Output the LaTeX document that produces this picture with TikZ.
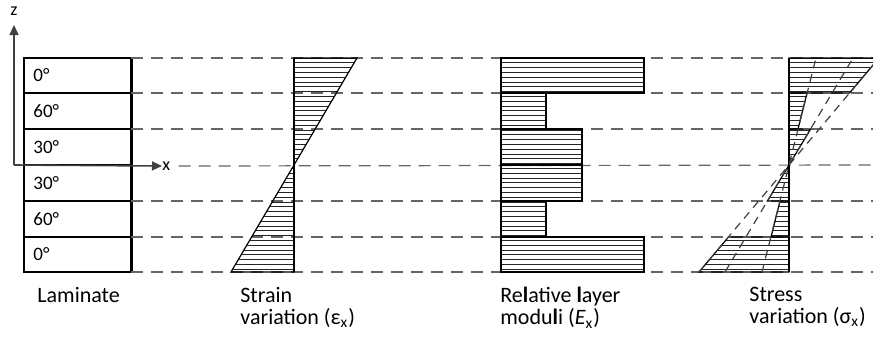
\documentclass[tikz,border=0pt]{standalone}
\usepackage{fontspec}
\setmainfont{Carlito}
\usetikzlibrary{arrows.meta}

\tikzset{
  layerline/.style={black!60, line width=0.6pt, dash pattern=on 6pt off 4pt},
  slopeline/.style={black!75, line width=0.6pt, dash pattern=on 4pt off 3pt},
  hatchline/.style={black!85, line width=0.45pt},
  outline/.style={black, line width=0.6pt},
  axisline/.style={black!75, line width=0.8pt, -{Triangle[length=5pt, width=4.5pt]}},
  plylabel/.style={anchor=west, inner sep=0pt, font=\fontsize{9.5}{10}\selectfont},
  caption/.style={anchor=north west, inner sep=0pt, align=left, font=\fontsize{11}{11}\selectfont}
}

% horizontal hatching clipped to a closed polygon
\newcommand{\hatchpoly}[1]{%
  \begin{scope}
    \clip #1 -- cycle;
    \foreach \hy in {58,62.8,...,275} \draw[hatchline] (0,\hy) -- (873,\hy);
  \end{scope}
  \draw[outline] #1 -- cycle;
}

\begin{document}
\begin{tikzpicture}[x=0.5pt, y=-0.5pt]
    \useasboundingbox (0,0) rectangle (873,338);

    % laminate
    \foreach \ya/\yb/\ang in {58/93/0, 93/129/60, 129/165/30, 165/201/30, 201/237/60, 237/272/0} {
        \draw[outline] (24,\ya) rectangle (131,\yb);
        \node[plylabel] (ply\ya) at (33,{(\ya+\yb)/2}) {\ang°};
    }
    \draw[outline, line width=1pt] (131.5,58) -- (131.5,272);
    \coordinate (origin) at (14,165);
    \coordinate (ztip) at (14,25);
    \node[inner sep=0pt, font=\fontsize{9}{9}\selectfont] (zlabel) at (14,11) {z};
    \node[anchor=west, inner sep=0pt, font=\fontsize{9}{9}\selectfont] (xlabel) at (162,166) {x};
    \draw[axisline] (origin) -- (ztip);
    \draw[axisline] (origin) -- (xlabel.west);

    % layer boundaries
    \foreach \yl in {58,93,129,201,237,272}
        \draw[layerline] (131,\yl) -- (873,\yl);
    \draw[layerline] ([xshift=4pt]xlabel.east) -- (873,165);

    % strain
    \hatchpoly{(294,58) -- (357,58) -- (294,165)}
    \hatchpoly{(294,165) -- (231,272) -- (294,272)}
    \draw[outline] (294,58) -- (294,272);

    % layer moduli
    \hatchpoly{(501,58) -- (644,58) -- (644,93) -- (501,93)}
    \hatchpoly{(501,93) -- (546,93) -- (546,129) -- (501,129)}
    \hatchpoly{(501,129) -- (582,129) -- (582,165) -- (501,165)}
    \hatchpoly{(501,165) -- (582,165) -- (582,201) -- (501,201)}
    \hatchpoly{(501,201) -- (546,201) -- (546,237) -- (501,237)}
    \hatchpoly{(501,237) -- (644,237) -- (644,272) -- (501,272)}

    % stress
    \hatchpoly{(789,58) -- (879,58) -- (849.5,93) -- (789,93)}
    \hatchpoly{(789,93) -- (807,93) -- (798,129) -- (789,129)}
    \hatchpoly{(789,129) -- (810.6,129) -- (789,165)}
    \hatchpoly{(789,165) -- (767.4,201) -- (789,201)}
    \hatchpoly{(789,201) -- (780,201) -- (771,237) -- (789,237)}
    \hatchpoly{(789,237) -- (728.5,237) -- (699,272) -- (789,272)}
    \draw[outline] (789,58) -- (789,272);
    \draw[slopeline] (699,272) -- (879,58);
    \draw[slopeline] (725,272) -- (853,58);
    \draw[slopeline] (762,272) -- (816,58);

    % captions
    \node[caption] (laminate) at (37,287) {Laminate};
    \node[caption] (strain) at (240,287) {Strain\\variation (ε\textsubscript{x})};
    \node[caption] (moduli) at (500,287) {Re\textbf{l}ative \textbf{l}ayer\\modu\textbf{l}i (\textit{E}\textsubscript{x})};
    \node[caption] (stress) at (749,287) {Stress\\variation (σ\textsubscript{x})};
\end{tikzpicture}
\end{document}
